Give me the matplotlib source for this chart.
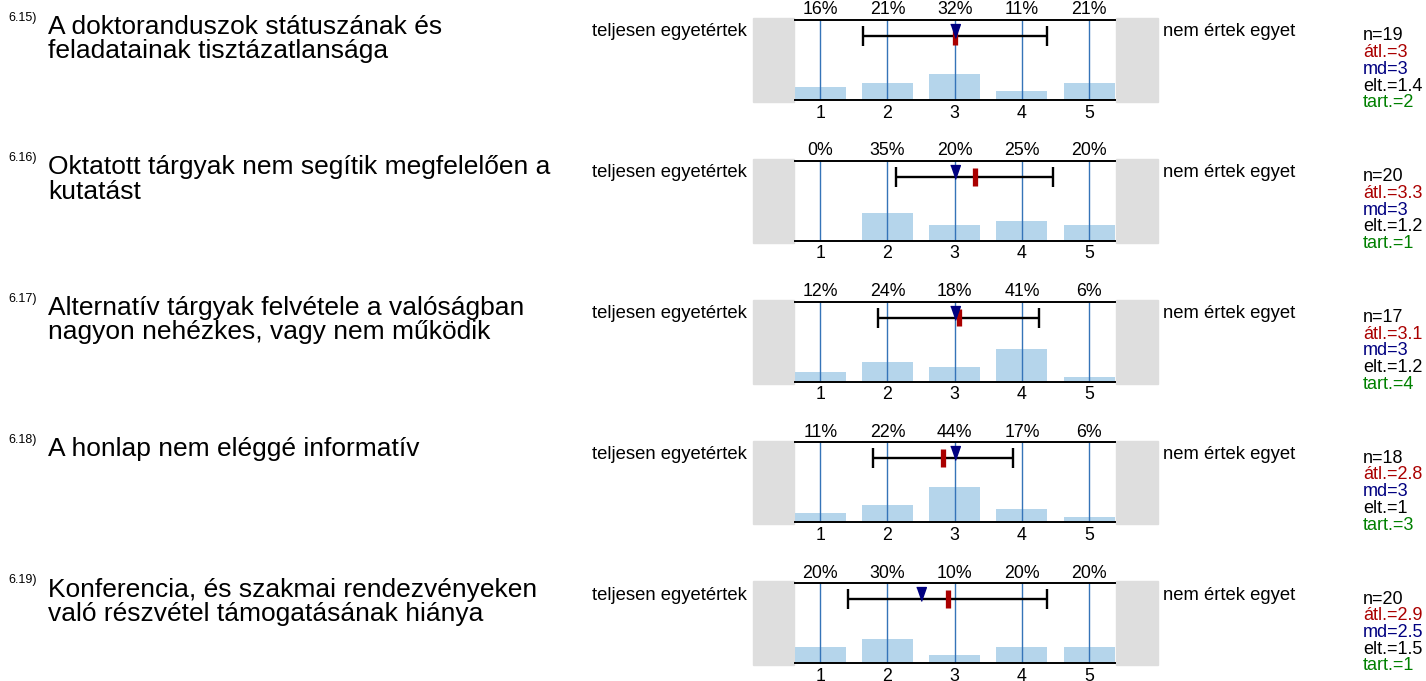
import numpy as np
import matplotlib
matplotlib.use("Agg")
import matplotlib.pyplot as plt
from matplotlib.patches import Rectangle

plt.rcParams['font.family'] = ['Liberation Sans', 'DejaVu Sans']

# data
item_ids = ["6.15)", "6.16)", "6.17)", "6.18)", "6.19)"]
titles = [
    ["A doktoranduszok státuszának és", "feladatainak tisztázatlansága"],
    ["Oktatott tárgyak nem segítik megfelelően a", "kutatást"],
    ["Alternatív tárgyak felvétele a valóságban", "nagyon nehézkes, vagy nem működik"],
    ["A honlap nem eléggé informatív"],
    ["Konferencia, és szakmai rendezvényeken", "való részvétel támogatásának hiánya"],
]
scale = [1, 2, 3, 4, 5]
pcts = [
    [16, 21, 32, 11, 21],
    [0, 35, 20, 25, 20],
    [12, 24, 18, 41, 6],
    [11, 22, 44, 17, 6],
    [20, 30, 10, 20, 20],
]
n_vals = [19, 20, 17, 18, 20]
means = [3.0, 3.3, 3.06, 2.83, 2.9]
means_lbl = ["3", "3.3", "3.1", "2.8", "2.9"]
medians = [3, 3, 3, 3, 2.5]
medians_lbl = ["3", "3", "3", "3", "2.5"]
sds = [1.37, 1.17, 1.2, 1.04, 1.48]
sds_lbl = ["1.4", "1.2", "1.2", "1", "1.5"]
ranges = [2, 1, 4, 3, 1]
left_label = "teljesen egyetértek"
right_label = "nem értek egyet"

W, H = 1426, 681
fig = plt.figure(figsize=(W / 100, H / 100), dpi=100)


def fx(px):
    return px / W


def fy(py):
    return 1 - py / H


BAR_COL = '#b5d5eb'
LINE_COL = '#3574b8'
RED = '#aa0000'
NAVY = '#000080'
GREEN = '#008000'
GRAY = '#dedede'

tri = [(-0.35, 0.5), (0.35, 0.5), (0, -0.5)]

for i in range(len(item_ids)):
    top = 20 + i * 140.75
    bot = top + 80
    ax = fig.add_axes([fx(795), fy(bot), fx(320), 80 / H])
    ax.set_xlim(0.625, 5.385)
    ax.set_ylim(0, 1)

    ax.bar(scale, [p / 100 for p in pcts[i]], width=0.76, color=BAR_COL, zorder=1)
    for s in scale:
        ax.axvline(s, color=LINE_COL, lw=1.0, zorder=2)

    for side in ['left', 'right']:
        ax.spines[side].set_visible(False)
    for side in ['top', 'bottom']:
        ax.spines[side].set_linewidth(1.4)
        ax.spines[side].set_zorder(3)
    ax.set_xticks([])
    ax.set_yticks([])

    # grey end boxes
    ax.add_patch(Rectangle((-0.131, -0.025), 0.128, 1.045, transform=ax.transAxes,
                           color=GRAY, clip_on=False, zorder=0))
    ax.add_patch(Rectangle((1.003, -0.025), 0.131, 1.045, transform=ax.transAxes,
                           color=GRAY, clip_on=False, zorder=0))

    # percentages and scale numbers
    for s, p in zip(scale, pcts[i]):
        ax.text(s, 1.125, f"{p}%", ha='center', va='center', fontsize=12.8)
        ax.text(s, -0.165, str(s), ha='center', va='center', fontsize=12.8)

    # mean +- sd
    ax.errorbar([means[i]], [0.8], xerr=[sds[i]], fmt='none', ecolor='black',
                elinewidth=1.7, capsize=7, capthick=1.7, zorder=4)
    ax.vlines(means[i], 0.8 - 0.112, 0.8 + 0.112, colors=RED, lw=3.8, zorder=5)
    ax.plot([medians[i]], [0.86], marker=tri, markersize=10, color=NAVY,
            linestyle='none', zorder=6)

    # side labels
    fig.text(fx(747), fy(top + 12), left_label, ha='right', va='center', fontsize=13.3)
    fig.text(fx(1163), fy(top + 12), right_label, ha='left', va='center', fontsize=13.3)

    # titles
    fig.text(fx(8), fy(top - 2.5), item_ids[i], ha='left', va='center', fontsize=9)
    for k, line in enumerate(titles[i]):
        fig.text(fx(48), fy(top + 13.5 + k * 24.5), line, ha='left', va='baseline', fontsize=19)

    # stats
    stats = [(f"n={n_vals[i]}", 'black'), (f"átl.={means_lbl[i]}", RED),
             (f"md={medians_lbl[i]}", NAVY), (f"elt.={sds_lbl[i]}", 'black'),
             (f"tart.={ranges[i]}", GREEN)]
    for k, (t, c) in enumerate(stats):
        fig.text(fx(1363), fy(top + 16 + k * 16.7), t, ha='left', va='center',
                 fontsize=13, color=c)

fig.savefig("out.png", dpi=100)
